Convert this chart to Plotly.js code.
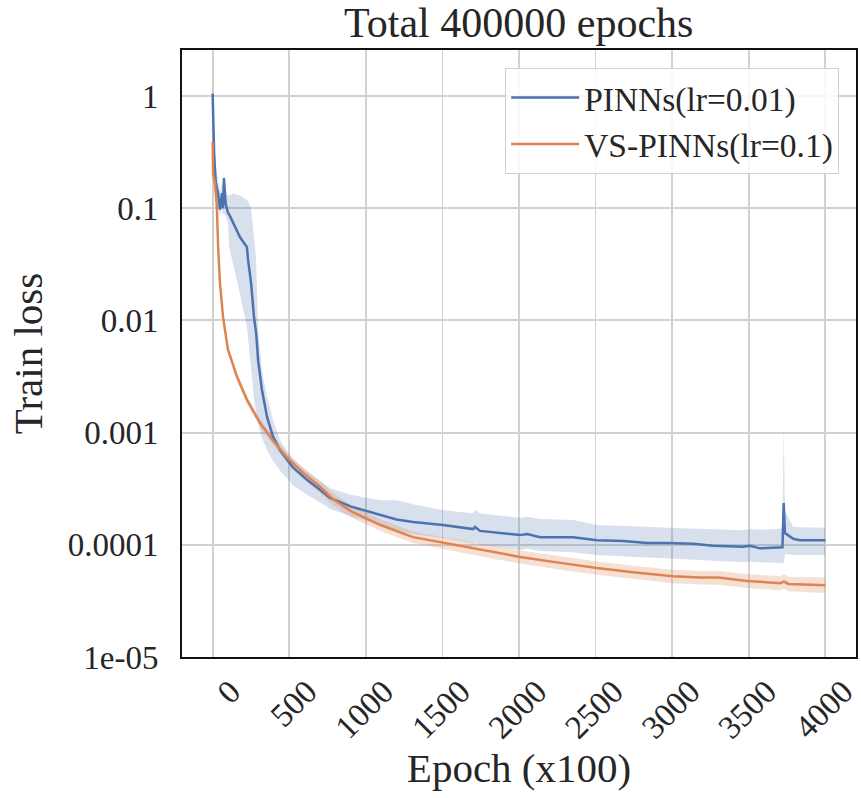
<!DOCTYPE html>
<html>
<head>
<meta charset="utf-8">
<script src="https://cdn.plot.ly/plotly-3.0.1.min.js"></script>
<style>html,body{margin:0;padding:0;background:#fff;}#chart{width:861px;height:798px;}</style>
</head>
<body>
<div id="chart"></div>
<script>
// ---- data (epoch x100, train loss) ----
const blueName = "PINNs(lr=0.01)";
const orangeName = "VS-PINNs(lr=0.1)";

const blueX = [0, 3, 10, 20, 35, 48, 61, 68, 74, 85,
  94, 100, 108, 133, 179, 224, 231, 251, 270, 284,
  297, 322, 355, 394, 440, 524, 616, 701, 766, 900,
  1095, 1200, 1308, 1504, 1700, 1713, 1746, 2007, 2053, 2138,
  2353, 2509, 2679, 2836, 2966, 3136, 3267, 3462, 3508, 3574,
  3720, 3728, 3736, 3745, 3790, 3835, 4000];
const blueMean = [1.05, 0.6, 0.3, 0.17, 0.136, 0.097, 0.136, 0.1, 0.186, 0.11,
  0.097, 0.091, 0.088, 0.074, 0.055, 0.045, 0.035, 0.0215, 0.0107, 0.0077,
  0.0044, 0.0024, 0.00138, 0.00092, 0.0007, 0.00049, 0.00038, 0.00031, 0.000262, 0.00022,
  0.000184, 0.000168, 0.00016, 0.00015, 0.000138, 0.000144, 0.000133, 0.000122, 0.000125, 0.000117,
  0.000117, 0.00011, 0.000108, 0.000104, 0.000104, 0.000102, 0.000098, 0.000096, 0.000098, 0.000093,
  0.000095, 0.000236, 0.000127, 0.000125, 0.000113, 0.00011, 0.00011];
const blueHi = [1.55, 1.0, 0.45, 0.24, 0.17, 0.14, 0.17, 0.14, 0.21, 0.14,
  0.13, 0.13, 0.13, 0.135, 0.13, 0.118, 0.115, 0.1, 0.05, 0.035,
  0.0085, 0.0035, 0.0021, 0.0013, 0.00085, 0.00058, 0.00045, 0.00037, 0.00032, 0.00028,
  0.00025, 0.00025, 0.00023, 0.000204, 0.00019, 0.000205, 0.00019, 0.000174, 0.000178, 0.00017,
  0.000166, 0.00015, 0.000148, 0.000145, 0.000142, 0.00014, 0.000137, 0.000135, 0.000138, 0.000136,
  0.00014, 0.0012, 0.0002, 0.00019, 0.000145, 0.000143, 0.000142];
const blueLo = [0.6, 0.35, 0.2, 0.14, 0.11, 0.085, 0.1, 0.085, 0.09, 0.085,
  0.08, 0.075, 0.045, 0.032, 0.017, 0.0087, 0.0075, 0.0038, 0.002, 0.0015,
  0.0012, 0.0009, 0.0007, 0.00056, 0.00046, 0.00034, 0.00028, 0.00024, 0.00021, 0.00018,
  0.00015, 0.000135, 0.000125, 0.000115, 0.000103, 0.000105, 0.0001, 0.00009, 0.000092, 0.000088,
  0.000086, 0.000081, 0.000079, 0.000077, 0.000076, 0.000074, 0.000072, 0.00007, 0.000071, 0.00007,
  0.000069, 0.000069, 0.000082, 0.000083, 0.000081, 0.000081, 0.000081];

const orangeX = [0, 3, 15, 28, 36, 48, 68, 100, 159, 224,
  309, 394, 485, 590, 701, 779, 900, 1095, 1308, 1504,
  1746, 2007, 2268, 2509, 2744, 3006, 3182, 3300, 3488, 3704,
  3730, 3760, 4000];
const orangeMean = [0.39, 0.2, 0.17, 0.1, 0.044, 0.0215, 0.0107, 0.0055, 0.00315, 0.00196,
  0.00122, 0.00085, 0.0006, 0.00044, 0.00033, 0.00026, 0.0002, 0.00015, 0.000117, 0.000104,
  0.00009, 0.000078, 0.000069, 0.000062, 0.000057, 0.0000525, 0.000051, 0.000051, 0.0000476, 0.0000455,
  0.000047, 0.0000448, 0.0000437];
const orangeLo = [0.33, 0.17, 0.15, 0.09, 0.04, 0.0198, 0.0099, 0.0051, 0.0029, 0.0018,
  0.00112, 0.00078, 0.00054, 0.00039, 0.00029, 0.000228, 0.000176, 0.000133, 0.000104, 0.000092,
  0.000079, 0.000068, 0.00006, 0.000054, 0.00005, 0.0000455, 0.0000442, 0.000044, 0.0000412, 0.0000392,
  0.0000405, 0.0000385, 0.0000372];
const orangeHi = [0.45, 0.24, 0.2, 0.11, 0.048, 0.0233, 0.0116, 0.006, 0.0034, 0.00213,
  0.00133, 0.00093, 0.00066, 0.00049, 0.00037, 0.000295, 0.000226, 0.000169, 0.000131, 0.000117,
  0.000102, 0.000089, 0.000079, 0.000071, 0.000065, 0.00006, 0.0000585, 0.0000585, 0.0000548, 0.0000525,
  0.0000545, 0.000052, 0.0000512];

const xTicks = [0, 500, 1000, 1500, 2000, 2500, 3000, 3500, 4000];
const xTickText = ["0", "500", "1000", "1500", "2000", "2500", "3000", "3500", "4000"];
const yTicks = [1, 0.1, 0.01, 0.001, 0.0001, 0.00001];
const yTickText = ["1", "0.1", "0.01", "0.001", "0.0001", "1e-05"];

const titleText = "Total 400000 epochs";
const xTitle = "Epoch (x100)";
const yTitle = "Train loss";

// ---- styling ----
const BLUE = "#4c72b0", ORANGE = "#dd8452";
const FONT = "'Liberation Serif', 'Times New Roman', serif";
const TXT = "#262626";

function band(x, lo, hi, color) {
  return {
    x: x.concat(x.slice().reverse()),
    y: hi.concat(lo.slice().reverse()),
    type: "scatter", mode: "lines", fill: "toself",
    fillcolor: color, line: {width: 0, color: "rgba(0,0,0,0)"},
    hoverinfo: "skip", showlegend: false
  };
}

const traces = [
  band(blueX, blueLo, blueHi, "rgba(76,114,176,0.22)"),
  band(orangeX, orangeLo, orangeHi, "rgba(221,132,82,0.25)"),
  {x: blueX, y: blueMean, type: "scatter", mode: "lines", name: blueName,
   line: {color: BLUE, width: 2.5}},
  {x: orangeX, y: orangeMean, type: "scatter", mode: "lines", name: orangeName,
   line: {color: ORANGE, width: 2.5}}
];

const layout = {
  width: 861, height: 798,
  margin: {l: 182, r: 5, t: 50, b: 141},
  paper_bgcolor: "#fff", plot_bgcolor: "#fff",
  font: {family: FONT, color: TXT, size: 33},
  title: {text: titleText, font: {family: FONT, size: 42, color: TXT},
          x: 0.6025, xanchor: "center", y: 0.972, yanchor: "middle"},
  xaxis: {
    type: "linear", range: [-200, 4200],
    tickvals: xTicks, ticktext: xTickText, tickangle: -45,
    ticks: "", ticklabelstandoff: 0, ticklabelshift: 18,
    ticklabeloverflow: "allow",
    showgrid: true, gridcolor: "#d2d2d2", gridwidth: 1.8,
    showline: true, mirror: true, linecolor: "#111", linewidth: 2,
    zeroline: false,
    tickfont: {family: FONT, size: 33, color: TXT},
    title: {text: xTitle, font: {family: FONT, size: 41, color: TXT}, standoff: 4}
  },
  yaxis: {
    type: "log", range: [-5, 0.41],
    tickvals: yTicks, ticktext: yTickText,
    ticks: "", ticklabelstandoff: 15,
    showgrid: true, gridcolor: "#d2d2d2", gridwidth: 1.8,
    showline: true, mirror: true, linecolor: "#111", linewidth: 2,
    zeroline: false,
    tickfont: {family: FONT, size: 33, color: TXT},
    title: {text: yTitle, font: {family: FONT, size: 41, color: TXT}, standoff: 12}
  },
  legend: {
    x: 0.975, xanchor: "right", y: 0.97, yanchor: "top",
    bgcolor: "rgba(255,255,255,0.85)", bordercolor: "#d0d0d0", borderwidth: 1,
    font: {family: FONT, size: 33.5, color: TXT},
    itemwidth: 68, tracegroupgap: 4
  },
  showlegend: true
};

Plotly.newPlot("chart", traces, layout, {displayModeBar: false, staticPlot: true});
</script>
</body>
</html>
